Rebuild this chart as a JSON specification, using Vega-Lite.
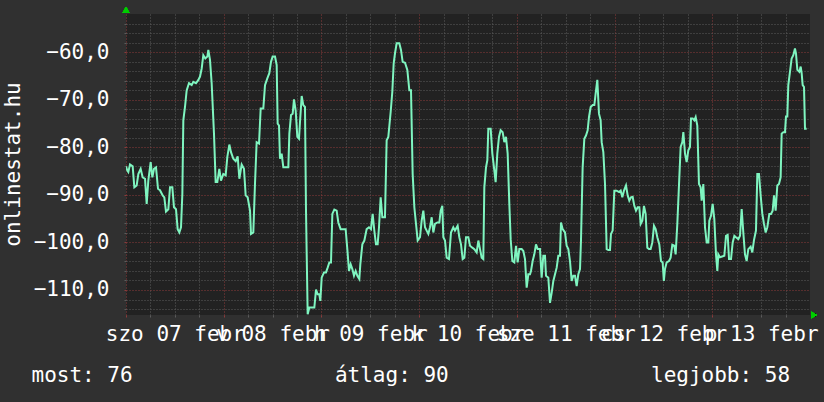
{
  "$schema": "https://vega.github.io/schema/vega-lite/v6.json",
  "autosize": "none",
  "width": 684,
  "height": 301,
  "padding": {"left": 126, "top": 14, "right": 14, "bottom": 87},
  "background": "#303030",
  "config": {
    "view": {"fill": "#222222", "stroke": null},
    "font": "DejaVu Sans Mono"
  },
  "data": {"values": [
    {"ora":0,"ertek":-84.0},{"ora":0.33,"ertek":-84.9},{"ora":0.57,"ertek":-85.2},{"ora":0.98,"ertek":-83.6},{"ora":1.64,"ertek":-84.0},{"ora":2.05,"ertek":-88.4},{"ora":2.62,"ertek":-88.0},{"ora":3.03,"ertek":-85.6},{"ora":3.6,"ertek":-84.5},{"ora":4.09,"ertek":-86.3},{"ora":4.67,"ertek":-86.6},{"ora":5.08,"ertek":-91.9},{"ora":5.48,"ertek":-87.0},{"ora":6.06,"ertek":-83.1},{"ora":6.47,"ertek":-86.3},{"ora":6.88,"ertek":-84.5},{"ora":7.37,"ertek":-84.2},{"ora":7.86,"ertek":-88.7},{"ora":8.35,"ertek":-89.0},{"ora":9.01,"ertek":-90.1},{"ora":9.41,"ertek":-90.5},{"ora":9.82,"ertek":-93.5},{"ora":10.4,"ertek":-93.0},{"ora":10.81,"ertek":-88.4},{"ora":11.38,"ertek":-88.4},{"ora":11.79,"ertek":-92.6},{"ora":12.28,"ertek":-93.0},{"ora":12.69,"ertek":-97.2},{"ora":13.1,"ertek":-97.9},{"ora":13.51,"ertek":-96.8},{"ora":13.84,"ertek":-89.8},{"ora":14.08,"ertek":-74.3},{"ora":14.49,"ertek":-71.5},{"ora":14.9,"ertek":-68.0},{"ora":15.47,"ertek":-66.5},{"ora":16.13,"ertek":-66.9},{"ora":16.54,"ertek":-66.2},{"ora":17.19,"ertek":-66.5},{"ora":17.77,"ertek":-65.8},{"ora":18.18,"ertek":-65.1},{"ora":18.59,"ertek":-63.4},{"ora":18.99,"ertek":-60.6},{"ora":19.48,"ertek":-61.3},{"ora":19.98,"ertek":-60.9},{"ora":20.22,"ertek":-59.5},{"ora":20.63,"ertek":-61.6},{"ora":21.04,"ertek":-66.5},{"ora":21.61,"ertek":-77.1},{"ora":22.02,"ertek":-87.3},{"ora":22.43,"ertek":-87.3},{"ora":22.92,"ertek":-84.5},{"ora":23.33,"ertek":-87.0},{"ora":23.9,"ertek":-85.6},{"ora":24.48,"ertek":-85.9},{"ora":24.89,"ertek":-82.0},{"ora":25.38,"ertek":-79.4},{"ora":25.79,"ertek":-81.0},{"ora":26.36,"ertek":-82.4},{"ora":26.94,"ertek":-82.9},{"ora":27.43,"ertek":-81.9},{"ora":27.84,"ertek":-86.6},{"ora":28.41,"ertek":-83.6},{"ora":28.98,"ertek":-84.5},{"ora":29.39,"ertek":-90.1},{"ora":29.88,"ertek":-90.5},{"ora":30.46,"ertek":-93.3},{"ora":30.7,"ertek":-98.2},{"ora":31.27,"ertek":-97.9},{"ora":31.68,"ertek":-87.7},
    {"ora":32.09,"ertek":-78.9},{"ora":32.67,"ertek":-79.2},{"ora":33.08,"ertek":-71.8},{"ora":33.73,"ertek":-71.8},{"ora":34.14,"ertek":-66.9},{"ora":34.71,"ertek":-65.5},{"ora":35.2,"ertek":-64.4},{"ora":35.61,"ertek":-62.0},{"ora":36.02,"ertek":-60.9},{"ora":36.6,"ertek":-60.9},{"ora":37.01,"ertek":-62.7},{"ora":37.25,"ertek":-75.0},{"ora":37.58,"ertek":-75.4},{"ora":37.82,"ertek":-82.4},{"ora":38.23,"ertek":-81.3},{"ora":38.64,"ertek":-84.2},{"ora":39.87,"ertek":-84.2},{"ora":40.12,"ertek":-77.1},{"ora":40.53,"ertek":-73.2},{"ora":40.94,"ertek":-72.9},{"ora":41.26,"ertek":-69.9},{"ora":41.67,"ertek":-72.2},{"ora":42.08,"ertek":-77.8},{"ora":42.49,"ertek":-78.2},{"ora":42.74,"ertek":-74.6},{"ora":43.15,"ertek":-69.2},{"ora":43.55,"ertek":-71.1},{"ora":43.96,"ertek":-71.5},{"ora":44.21,"ertek":-93.3},{"ora":44.62,"ertek":-115.1},{"ora":45.03,"ertek":-113.7},{"ora":46.26,"ertek":-113.7},{"ora":46.67,"ertek":-109.9},{"ora":47.08,"ertek":-110.9},{"ora":47.48,"ertek":-110.9},{"ora":47.73,"ertek":-112.3},{"ora":48.06,"ertek":-107.4},{"ora":48.63,"ertek":-106.3},{"ora":49.12,"ertek":-106.3},{"ora":49.53,"ertek":-105.3},{"ora":49.94,"ertek":-104.2},{"ora":50.35,"ertek":-104.2},{"ora":50.68,"ertek":-94.0},{"ora":51.17,"ertek":-93.1},{"ora":51.74,"ertek":-93.3},{"ora":52.15,"ertek":-95.8},{"ora":52.72,"ertek":-97.2},{"ora":53.95,"ertek":-97.2},{"ora":54.36,"ertek":-101.4},{"ora":54.77,"ertek":-106.0},{"ora":55.18,"ertek":-104.6},{"ora":55.59,"ertek":-105.6},{"ora":56.0,"ertek":-107.0},{"ora":56.41,"ertek":-106.0},{"ora":56.82,"ertek":-107.0},{"ora":57.31,"ertek":-107.7},{"ora":57.55,"ertek":-104.6},{"ora":58.05,"ertek":-100.4},{"ora":58.54,"ertek":-99.6},{"ora":59.11,"ertek":-97.2},{"ora":59.68,"ertek":-96.8},{"ora":60.17,"ertek":-97.2},{"ora":60.58,"ertek":-94.0},{"ora":60.99,"ertek":-97.5},{"ora":61.4,"ertek":-100.4},{"ora":61.81,"ertek":-100.4},{"ora":62.14,"ertek":-96.8},{"ora":62.55,"ertek":-90.5},{"ora":62.96,"ertek":-94.7},{"ora":63.61,"ertek":-94.7},{"ora":64.02,"ertek":-78.5},{"ora":64.43,"ertek":-77.8},{"ora":65.01,"ertek":-72.5},{"ora":65.41,"ertek":-68.3},{"ora":65.75,"ertek":-62.3},
    {"ora":66.07,"ertek":-60.2},{"ora":66.48,"ertek":-58.1},{"ora":67.13,"ertek":-58.1},{"ora":67.54,"ertek":-59.5},{"ora":67.95,"ertek":-62.0},{"ora":68.53,"ertek":-62.2},{"ora":69.1,"ertek":-63.7},{"ora":69.59,"ertek":-68.0},{"ora":70.0,"ertek":-68.0},{"ora":70.41,"ertek":-85.6},{"ora":70.82,"ertek":-92.6},{"ora":71.23,"ertek":-96.1},{"ora":71.64,"ertek":-99.6},{"ora":72.21,"ertek":-98.9},{"ora":72.62,"ertek":-95.4},{"ora":73.03,"ertek":-93.3},{"ora":73.44,"ertek":-96.8},{"ora":73.85,"ertek":-97.5},{"ora":74.26,"ertek":-98.2},{"ora":74.67,"ertek":-96.8},{"ora":75.08,"ertek":-94.7},{"ora":75.48,"ertek":-97.9},{"ora":75.89,"ertek":-96.1},{"ora":76.47,"ertek":-95.8},{"ora":76.96,"ertek":-95.8},{"ora":77.29,"ertek":-93.3},{"ora":77.69,"ertek":-92.3},{"ora":77.94,"ertek":-98.9},{"ora":78.35,"ertek":-99.6},{"ora":78.76,"ertek":-103.2},{"ora":79.33,"ertek":-103.5},{"ora":79.82,"ertek":-97.9},{"ora":80.39,"ertek":-96.8},{"ora":80.8,"ertek":-97.5},{"ora":81.46,"ertek":-96.5},{"ora":81.87,"ertek":-98.9},{"ora":82.28,"ertek":-100.4},{"ora":82.69,"ertek":-103.5},{"ora":83.1,"ertek":-103.2},{"ora":83.51,"ertek":-98.9},{"ora":84.08,"ertek":-98.9},{"ora":84.49,"ertek":-100.7},{"ora":85.06,"ertek":-101.1},{"ora":85.56,"ertek":-101.4},{"ora":86.13,"ertek":-102.1},{"ora":86.54,"ertek":-99.6},{"ora":86.95,"ertek":-101.4},{"ora":87.36,"ertek":-103.2},{"ora":87.76,"ertek":-103.5},{"ora":88.01,"ertek":-88.4},{"ora":88.42,"ertek":-84.2},{"ora":88.75,"ertek":-82.7},{"ora":88.99,"ertek":-76.1},{"ora":89.57,"ertek":-76.1},{"ora":89.98,"ertek":-81.3},{"ora":90.38,"ertek":-84.2},{"ora":90.79,"ertek":-87.3},{"ora":91.2,"ertek":-81.3},{"ora":91.61,"ertek":-77.8},{"ora":92.02,"ertek":-76.4},{"ora":92.51,"ertek":-76.8},{"ora":92.92,"ertek":-78.9},{"ora":93.33,"ertek":-77.8},{"ora":93.74,"ertek":-81.3},{"ora":94.15,"ertek":-91.9},{"ora":94.48,"ertek":-99.3},{"ora":94.89,"ertek":-103.9},{"ora":95.38,"ertek":-104.2},{"ora":95.79,"ertek":-100.7},{"ora":96.2,"ertek":-104.2},{"ora":96.61,"ertek":-101.4},{"ora":97.18,"ertek":-101.4},{"ora":97.59,"ertek":-101.8},{"ora":98.0,"ertek":-103.5},{"ora":98.41,"ertek":-109.5},{"ora":98.82,"ertek":-106.7},{"ora":99.23,"ertek":-106.7},
    {"ora":99.47,"ertek":-106.0},{"ora":99.88,"ertek":-103.9},{"ora":100.29,"ertek":-102.5},{"ora":100.7,"ertek":-100.4},{"ora":101.11,"ertek":-101.4},{"ora":101.68,"ertek":-101.4},{"ora":102.09,"ertek":-107.4},{"ora":102.5,"ertek":-102.8},{"ora":102.91,"ertek":-102.8},{"ora":103.16,"ertek":-107.0},{"ora":103.73,"ertek":-107.4},{"ora":104.14,"ertek":-112.7},{"ora":104.55,"ertek":-110.6},{"ora":104.96,"ertek":-108.1},{"ora":105.37,"ertek":-106.7},{"ora":105.78,"ertek":-105.3},{"ora":106.18,"ertek":-102.8},{"ora":106.59,"ertek":-102.8},{"ora":106.84,"ertek":-95.8},{"ora":107.25,"ertek":-97.2},{"ora":107.82,"ertek":-97.9},{"ora":108.23,"ertek":-100.7},{"ora":108.64,"ertek":-101.4},{"ora":109.05,"ertek":-103.9},{"ora":109.46,"ertek":-108.1},{"ora":109.87,"ertek":-107.0},{"ora":110.28,"ertek":-107.0},{"ora":110.69,"ertek":-109.2},{"ora":111.1,"ertek":-106.7},{"ora":111.51,"ertek":-105.6},{"ora":111.75,"ertek":-99.6},{"ora":112.16,"ertek":-84.2},{"ora":112.57,"ertek":-78.2},{"ora":112.98,"ertek":-77.5},{"ora":113.39,"ertek":-76.4},{"ora":113.72,"ertek":-73.6},{"ora":114.13,"ertek":-71.5},{"ora":114.62,"ertek":-71.1},{"ora":115.03,"ertek":-71.1},{"ora":115.35,"ertek":-68.7},{"ora":115.76,"ertek":-65.8},{"ora":116.17,"ertek":-72.9},{"ora":116.58,"ertek":-74.3},{"ora":116.83,"ertek":-78.9},{"ora":117.24,"ertek":-81.0},{"ora":117.65,"ertek":-87.7},{"ora":118.06,"ertek":-101.4},{"ora":118.46,"ertek":-101.6},{"ora":118.87,"ertek":-101.6},{"ora":119.12,"ertek":-98.2},{"ora":119.53,"ertek":-97.5},{"ora":119.94,"ertek":-89.1},{"ora":120.51,"ertek":-89.1},{"ora":121.09,"ertek":-89.4},{"ora":121.5,"ertek":-89.1},{"ora":121.9,"ertek":-90.5},{"ora":122.31,"ertek":-89.1},{"ora":122.81,"ertek":-88.0},{"ora":123.22,"ertek":-90.1},{"ora":123.62,"ertek":-91.2},{"ora":124.03,"ertek":-90.5},{"ora":124.44,"ertek":-90.4},{"ora":124.85,"ertek":-92.3},{"ora":125.26,"ertek":-93.3},{"ora":125.67,"ertek":-92.6},{"ora":126.08,"ertek":-92.6},{"ora":126.41,"ertek":-96.1},{"ora":126.82,"ertek":-95.4},{"ora":127.22,"ertek":-92.3},{"ora":127.63,"ertek":-94.0},{"ora":128.04,"ertek":-101.1},{"ora":128.45,"ertek":-101.4},{"ora":128.86,"ertek":-101.4},{"ora":129.27,"ertek":-100.0},{"ora":129.68,"ertek":-96.5},{"ora":130.09,"ertek":-97.2},{"ora":130.5,"ertek":-98.9},{"ora":130.99,"ertek":-100.4},{"ora":131.4,"ertek":-103.9},{"ora":131.81,"ertek":-104.2},{"ora":132.1,"ertek":-108.1},
    {"ora":132.38,"ertek":-105.6},{"ora":132.79,"ertek":-104.2},{"ora":133.37,"ertek":-103.9},{"ora":133.77,"ertek":-103.2},{"ora":134.18,"ertek":-100.5},{"ora":134.68,"ertek":-100.7},{"ora":135.0,"ertek":-102.5},{"ora":135.41,"ertek":-96.1},{"ora":135.82,"ertek":-88.0},{"ora":136.23,"ertek":-79.9},{"ora":136.64,"ertek":-78.9},{"ora":136.89,"ertek":-76.8},{"ora":137.3,"ertek":-81.3},{"ora":137.7,"ertek":-83.1},{"ora":138.11,"ertek":-80.6},{"ora":138.52,"ertek":-79.9},{"ora":138.77,"ertek":-73.9},{"ora":139.18,"ertek":-73.9},{"ora":139.59,"ertek":-74.3},{"ora":139.92,"ertek":-73.6},{"ora":140.32,"ertek":-75.4},{"ora":140.73,"ertek":-87.7},{"ora":141.14,"ertek":-88.4},{"ora":141.39,"ertek":-91.2},{"ora":141.8,"ertek":-87.7},{"ora":142.21,"ertek":-96.8},{"ora":142.62,"ertek":-100.0},{"ora":143.03,"ertek":-100.0},{"ora":143.27,"ertek":-95.4},{"ora":143.68,"ertek":-94.4},{"ora":144.09,"ertek":-91.9},{"ora":144.5,"ertek":-95.1},{"ora":144.91,"ertek":-102.5},{"ora":145.24,"ertek":-106.0},{"ora":145.48,"ertek":-102.5},{"ora":145.89,"ertek":-103.1},{"ora":146.96,"ertek":-102.8},{"ora":147.37,"ertek":-98.6},{"ora":147.78,"ertek":-98.4},{"ora":148.11,"ertek":-103.5},{"ora":148.6,"ertek":-103.5},{"ora":149.01,"ertek":-100.0},{"ora":149.42,"ertek":-98.6},{"ora":149.82,"ertek":-98.9},{"ora":150.4,"ertek":-99.3},{"ora":150.81,"ertek":-98.6},{"ora":151.22,"ertek":-93.0},{"ora":151.62,"ertek":-97.9},{"ora":152.03,"ertek":-102.5},{"ora":152.44,"ertek":-103.9},{"ora":152.85,"ertek":-101.4},{"ora":153.42,"ertek":-100.9},{"ora":153.83,"ertek":-102.1},{"ora":154.24,"ertek":-99.5},{"ora":154.73,"ertek":-97.5},{"ora":155.06,"ertek":-85.6},{"ora":155.47,"ertek":-85.6},{"ora":155.88,"ertek":-90.1},{"ora":156.29,"ertek":-94.0},{"ora":156.7,"ertek":-96.1},{"ora":157.11,"ertek":-97.9},{"ora":157.52,"ertek":-96.8},{"ora":158.01,"ertek":-94.0},{"ora":158.42,"ertek":-94.0},{"ora":158.83,"ertek":-93.3},{"ora":159.16,"ertek":-90.1},{"ora":159.56,"ertek":-93.3},{"ora":159.97,"ertek":-88.0},{"ora":160.38,"ertek":-87.7},{"ora":160.79,"ertek":-86.3},{"ora":161.04,"ertek":-77.1},{"ora":161.45,"ertek":-76.8},{"ora":161.86,"ertek":-76.8},{"ora":162.1,"ertek":-73.5},{"ora":162.43,"ertek":-73.5},{"ora":162.67,"ertek":-66.9},{"ora":163.08,"ertek":-64.1},{"ora":163.49,"ertek":-61.3},{"ora":163.9,"ertek":-60.6},{"ora":164.31,"ertek":-59.2},{"ora":164.56,"ertek":-60.3},{"ora":164.89,"ertek":-63.7},{"ora":165.38,"ertek":-64.1},{"ora":165.71,"ertek":-63.0},{"ora":165.95,"ertek":-64.4},{"ora":166.2,"ertek":-66.9},{"ora":166.53,"ertek":-67.3},{"ora":166.77,"ertek":-76.1},{"ora":167.18,"ertek":-76.1}
  ]},
  "layer": [
    {
      "mark": {"type": "line", "color": "#7ff5c0", "strokeWidth": 2, "clip": true},
      "encoding": {
        "x": {
          "field": "ora", "type": "quantitative",
          "scale": {"domain": [0, 168], "nice": false, "zero": false},
          "axis": {
            "values": [0,6,12,18,24,30,36,42,48,54,60,66,72,78,84,90,96,102,108,114,120,126,132,138,144,150,156,162],
            "tickCount": 100,
            "labelExpr": "datum.value % 24 === 12 ? ['szo 07 febr','v 08 febr','h 09 febr','k 10 febr','sze 11 febr','cs 12 febr','p 13 febr'][floor(datum.value / 24)] : ''",
            "labelOverlap": false, "labelBound": false, "labelFlush": false,
            "labelFont": "DejaVu Sans Mono", "labelFontSize": 21, "labelColor": "#ffffff", "labelPadding": 6,
            "domain": false, "ticks": true, "tickSize": 2,
            "tickColor": {"condition": {"test": "datum.value % 24 === 0", "value": "#8c3b3b"}, "value": "#5c5c5c"},
            "grid": true, "gridDash": [1, 2], "gridOpacity": 1, "gridWidth": 1,
            "gridColor": {"condition": {"test": "datum.value % 24 === 0", "value": "#8c3b3b"}, "value": "#5c5c5c"},
            "title": "most: 76\u00a0\u00a0\u00a0\u00a0\u00a0\u00a0\u00a0\u00a0\u00a0\u00a0\u00a0\u00a0\u00a0\u00a0\u00a0\u00a0átlag: 90\u00a0\u00a0\u00a0\u00a0\u00a0\u00a0\u00a0\u00a0\u00a0\u00a0\u00a0\u00a0\u00a0\u00a0\u00a0\u00a0legjobb: 58",
            "titleFont": "DejaVu Sans Mono", "titleFontSize": 21, "titleFontWeight": "normal", "titleColor": "#ffffff",
            "titleAlign": "left", "titleBaseline": "alphabetic", "titleX": -95, "titleY": 66
          }
        },
        "y": {
          "field": "ertek", "type": "quantitative",
          "scale": {"domain": [-115.26, -51.94], "nice": false, "zero": false},
          "axis": {
            "values": [-114,-112,-110,-108,-106,-104,-102,-100,-98,-96,-94,-92,-90,-88,-86,-84,-82,-80,-78,-76,-74,-72,-70,-68,-66,-64,-62,-60,-58,-56,-54],
            "tickCount": 100,
            "labelExpr": "datum.value % 10 === 0 ? replace(format(datum.value, '.1f'), '.', ',') : ''",
            "labelOverlap": false, "labelBound": false, "labelFlush": false,
            "labelFont": "DejaVu Sans Mono", "labelFontSize": 21, "labelColor": "#ffffff", "labelPadding": 15,
            "domain": false, "ticks": true, "tickSize": 2,
            "tickColor": {"condition": {"test": "datum.value % 10 === 0", "value": "#8c3b3b"}, "value": "#5c5c5c"},
            "grid": true, "gridDash": [1, 2], "gridOpacity": 1, "gridWidth": 1,
            "gridColor": {"condition": {"test": "datum.value % 10 === 0", "value": "#8c3b3b"}, "value": "#5c5c5c"},
            "title": "onlinestat.hu",
            "titleFont": "DejaVu Sans Mono", "titleFontSize": 21, "titleFontWeight": "normal", "titleColor": "#ffffff",
            "titleAngle": -90, "titleAlign": "center", "titleBaseline": "alphabetic", "titleX": -107, "titleY": 150
          }
        }
      }
    },
    {
      "mark": {"type": "point", "shape": "triangle-up", "filled": true, "color": "#00cc00", "opacity": 1, "size": 45, "yOffset": -4},
      "encoding": {"x": {"datum": 0}, "y": {"datum": -51.94}}
    },
    {
      "mark": {"type": "point", "shape": "triangle-right", "filled": true, "color": "#00cc00", "opacity": 1, "size": 45, "xOffset": 4},
      "encoding": {"x": {"datum": 168}, "y": {"datum": -115.26}}
    }
  ]
}
